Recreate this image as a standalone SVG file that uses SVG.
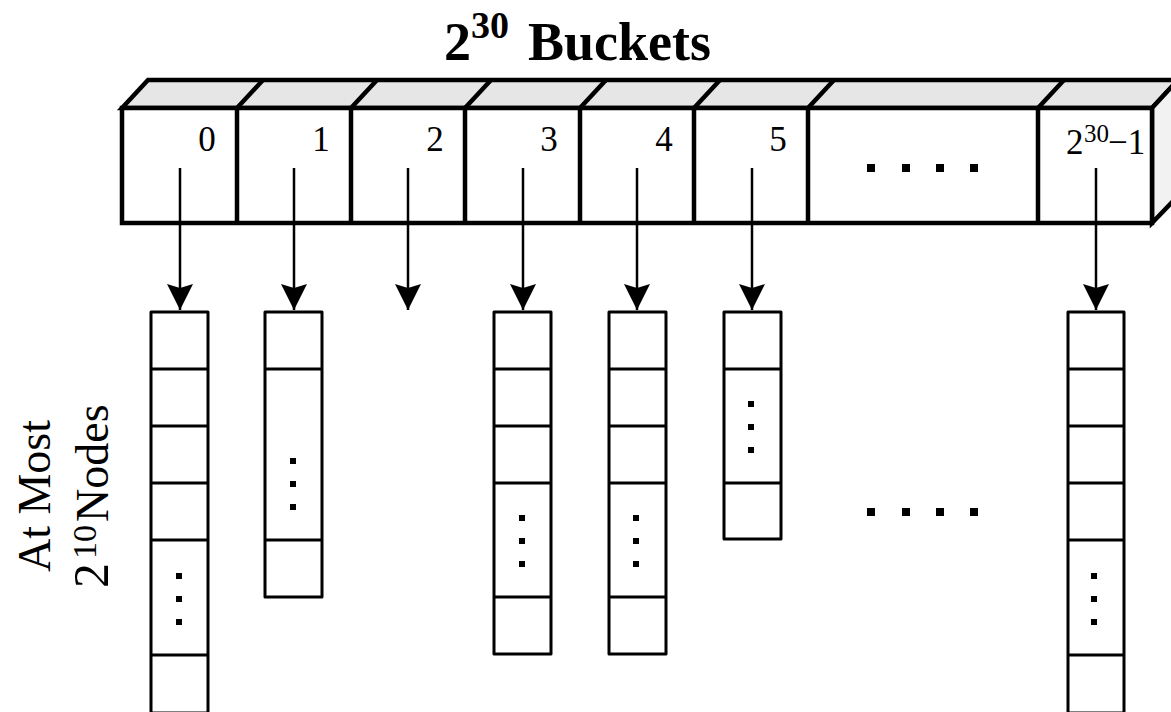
<svg xmlns="http://www.w3.org/2000/svg" width="1171" height="712" viewBox="0 0 1171 712">
  <style>
    .serif { font-family: "Liberation Serif", "Times New Roman", serif; fill: #000; }
    .title { font-size: 54px; font-weight: bold; }
    .idx { font-size: 35px; }
    .side { font-size: 46px; }
    .box { fill: #fff; stroke: #000; stroke-width: 4.5; stroke-linejoin: miter; }
    .top { fill: #e6e6e6; stroke: #000; stroke-width: 4.5; }
    .end { fill: #f2f2f2; stroke: #000; stroke-width: 4.5; }
    .div { stroke: #000; stroke-width: 4.5; fill: none; }
    .cell { fill: #fff; stroke: #000; stroke-width: 3; stroke-linejoin: round; }
    .sep { stroke: #000; stroke-width: 3; }
    .link { stroke: #000; stroke-width: 2.5; fill: none; }
    .dot { fill: #000; }
  </style>
  <defs>
    <marker id="head" markerUnits="userSpaceOnUse" markerWidth="26" markerHeight="26" viewBox="0 -13 26 26" refX="26" refY="0" orient="auto">
      <path d="M0,-13 L26,0 L0,13 L4,0 Z" fill="#000"/>
    </marker>
    <rect id="sq" x="-3" y="-3" width="6" height="6"/>
    <rect id="bigsq" x="-4" y="-4" width="8" height="8"/>
  </defs>

  <!-- title -->
  <g id="title" class="serif title">
    <text x="444" y="60">2</text>
    <text x="471" y="38" font-size="38">30</text>
    <text x="528" y="60">Buckets</text>
  </g>

  <!-- bucket array drawn as a 3D bar -->
  <g id="buckets">
    <polygon class="top" points="122,108 148,80 1178,80 1152,108"/>
    <polygon class="end" points="1152,108 1178,80 1178,196 1152,223"/>
    <rect class="box" x="122" y="108" width="1030" height="115"/>
    <path class="div" d="M237,108V223 M351,108V223 M465,108V223 M580,108V223 M694,108V223 M808,108V223 M1038,108V223"/>
    <path class="div" d="M237,108L263,80 M351,108L377,80 M465,108L491,80 M580,108L606,80 M694,108L720,80 M808,108L834,80 M1038,108L1064,80"/>
    <g class="serif idx" text-anchor="middle">
      <text x="207" y="151">0</text>
      <text x="321" y="151">1</text>
      <text x="435" y="151">2</text>
      <text x="549" y="151">3</text>
      <text x="664" y="151">4</text>
      <text x="778" y="151">5</text>
    </g>
    <text class="serif idx" x="1066" y="154">2<tspan x="1084" font-size="25" dy="-12">30</tspan><tspan x="1108" dy="12">−1</tspan></text>
    <g class="dot">
      <use href="#bigsq" x="871" y="168"/>
      <use href="#bigsq" x="906" y="168"/>
      <use href="#bigsq" x="940" y="168"/>
      <use href="#bigsq" x="974" y="168"/>
    </g>
  </g>

  <!-- pointers from buckets to chains -->
  <g id="connectors" class="link">
    <line x1="180" y1="168" x2="180" y2="310" marker-end="url(#head)"/>
    <line x1="294" y1="168" x2="294" y2="310" marker-end="url(#head)"/>
    <line x1="408" y1="168" x2="408" y2="310" marker-end="url(#head)"/>
    <line x1="523" y1="168" x2="523" y2="310" marker-end="url(#head)"/>
    <line x1="637" y1="168" x2="637" y2="310" marker-end="url(#head)"/>
    <line x1="752" y1="168" x2="752" y2="310" marker-end="url(#head)"/>
    <line x1="1096" y1="168" x2="1096" y2="310" marker-end="url(#head)"/>
  </g>

  <!-- chain under bucket 0 -->
  <g id="chain0">
    <rect class="cell" x="151" y="312" width="57" height="401"/>
    <path class="sep" d="M151,369H208 M151,426H208 M151,483H208 M151,540H208 M151,655H208"/>
    <g class="dot"><use href="#sq" x="179" y="576"/><use href="#sq" x="179" y="599"/><use href="#sq" x="179" y="622"/></g>
  </g>

  <!-- chain under bucket 1 -->
  <g id="chain1">
    <rect class="cell" x="265" y="312" width="57" height="285"/>
    <path class="sep" d="M265,369H322 M265,540H322"/>
    <g class="dot"><use href="#sq" x="293" y="461"/><use href="#sq" x="293" y="484"/><use href="#sq" x="293" y="507"/></g>
  </g>

  <!-- chain under bucket 3 -->
  <g id="chain3">
    <rect class="cell" x="494" y="312" width="57" height="342"/>
    <path class="sep" d="M494,369H551 M494,426H551 M494,483H551 M494,597H551"/>
    <g class="dot"><use href="#sq" x="522" y="518"/><use href="#sq" x="522" y="541"/><use href="#sq" x="522" y="564"/></g>
  </g>

  <!-- chain under bucket 4 -->
  <g id="chain4">
    <rect class="cell" x="609" y="312" width="57" height="342"/>
    <path class="sep" d="M609,369H666 M609,426H666 M609,483H666 M609,597H666"/>
    <g class="dot"><use href="#sq" x="636" y="518"/><use href="#sq" x="636" y="541"/><use href="#sq" x="636" y="564"/></g>
  </g>

  <!-- chain under bucket 5 -->
  <g id="chain5">
    <rect class="cell" x="724" y="312" width="57" height="227"/>
    <path class="sep" d="M724,369H781 M724,483H781"/>
    <g class="dot"><use href="#sq" x="751" y="404"/><use href="#sq" x="751" y="427"/><use href="#sq" x="751" y="450"/></g>
  </g>

  <!-- elided chains -->
  <g id="gap" class="dot">
    <use href="#bigsq" x="871" y="512"/>
    <use href="#bigsq" x="906" y="512"/>
    <use href="#bigsq" x="940" y="512"/>
    <use href="#bigsq" x="974" y="512"/>
  </g>

  <!-- chain under the last bucket -->
  <g id="chainLast">
    <rect class="cell" x="1068" y="312" width="56" height="401"/>
    <path class="sep" d="M1068,369H1124 M1068,426H1124 M1068,483H1124 M1068,540H1124 M1068,655H1124"/>
    <g class="dot"><use href="#sq" x="1094" y="576"/><use href="#sq" x="1094" y="599"/><use href="#sq" x="1094" y="622"/></g>
  </g>

  <!-- chain length label -->
  <g id="chainLabel" class="serif side">
    <text transform="translate(50,496) rotate(-90)" text-anchor="middle">At Most</text>
    <text transform="translate(108,590) rotate(-90)"><tspan x="2" y="0" font-size="50">2</tspan><tspan x="31" y="-12" font-size="34">10</tspan><tspan x="68" y="0">Nodes</tspan></text>
  </g>
</svg>
